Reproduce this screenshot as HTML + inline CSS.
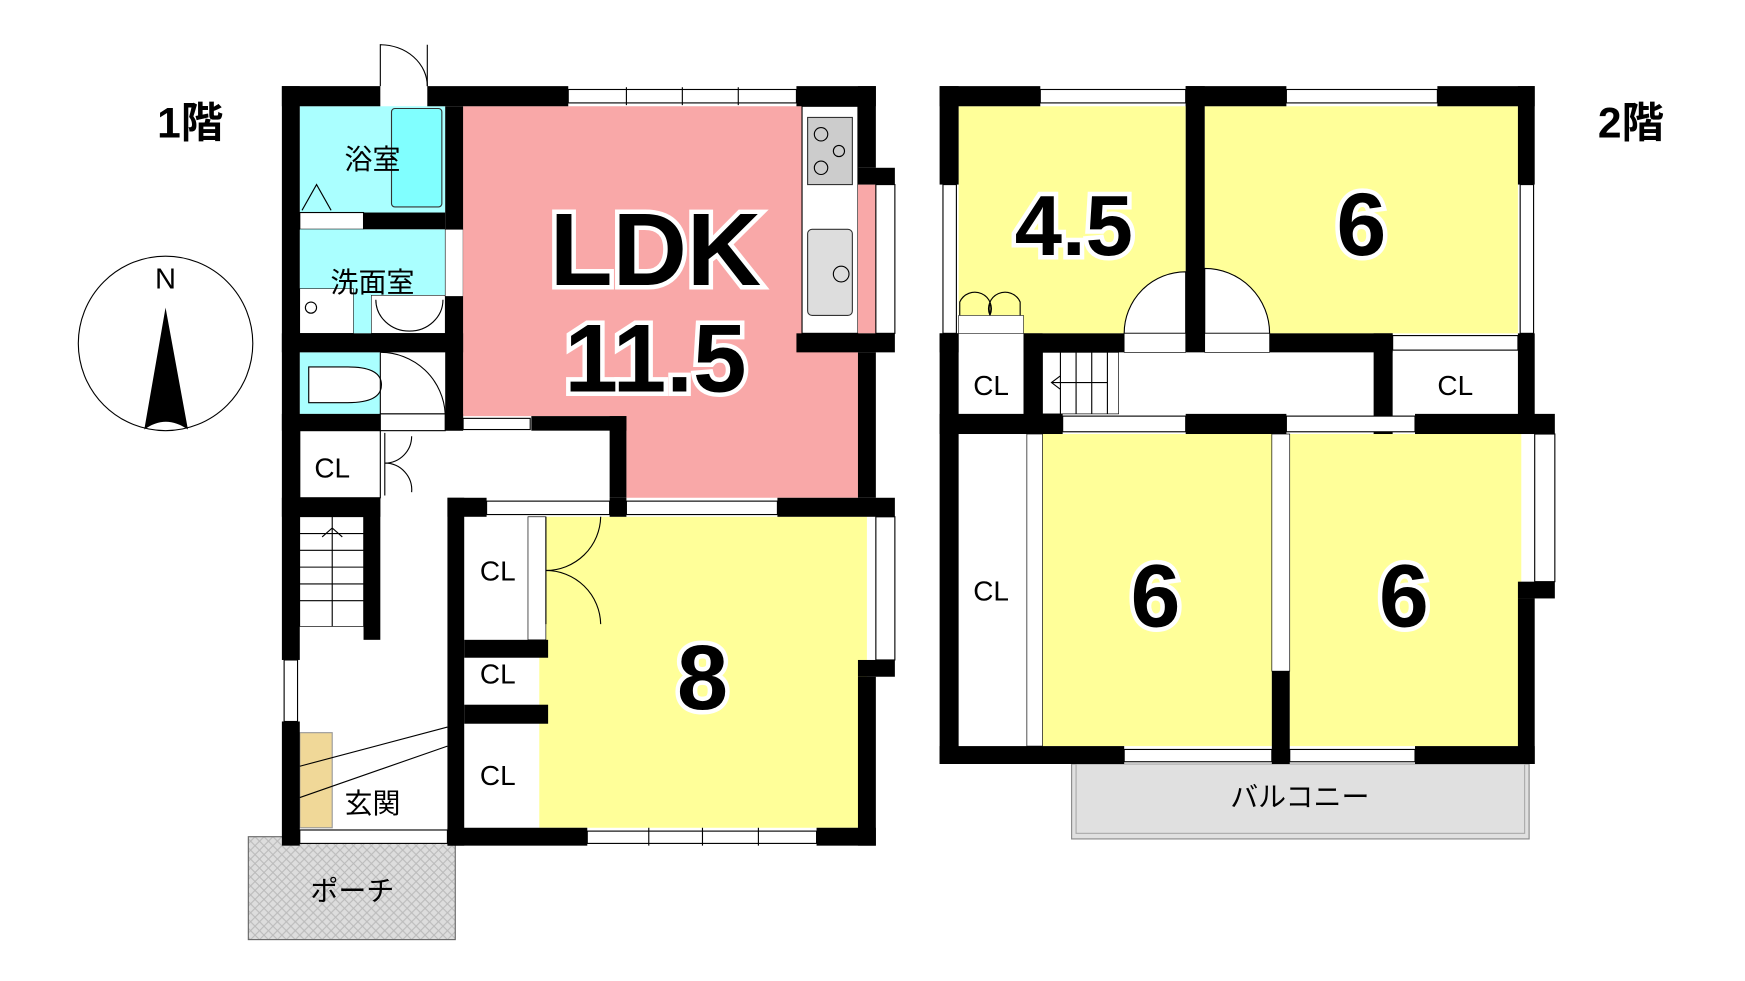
<!DOCTYPE html>
<html><head><meta charset="utf-8"><style>
html,body{margin:0;padding:0;background:#fff}
svg{display:block}
text{font-family:"Liberation Sans","Noto Sans CJK JP",sans-serif}
.big{font-weight:bold;stroke:#fff;stroke-width:8;paint-order:stroke;fill:#000;text-anchor:middle}
.lab{font-size:25px;text-anchor:middle;fill:#000}
.w{fill:#000}
.win{fill:#fff;stroke:#000;stroke-width:1}
.thin{fill:none;stroke:#000;stroke-width:1}
</style></head><body>
<svg width="1745" height="981" viewBox="0 0 1560 877" preserveAspectRatio="none" xmlns="http://www.w3.org/2000/svg">
<defs>
<pattern id="hatch" width="8" height="8" patternUnits="userSpaceOnUse">
<rect width="8" height="8" fill="#ddd"/><path d="M0 0L8 8M8 0L0 8" stroke="#bbb" stroke-width="1"/>
</pattern>
</defs>
<rect width="1560" height="877" fill="#fff"/>

<!-- ============ 1F ============ -->
<text x="170" y="123" font-size="38" font-weight="bold" text-anchor="middle">1階</text>
<circle cx="148" cy="307" r="78" fill="#fff" stroke="#000" stroke-width="1"/>
<text x="148" y="258" font-size="26" text-anchor="middle" font-family="Liberation Serif,serif">N</text>
<path d="M148 275 L129 384 Q148 370 168 384 Z" fill="#000"/>

<rect x="222" y="748" width="185" height="92" fill="url(#hatch)" stroke="#666" stroke-width="1"/>
<text x="315" y="805" class="lab">ポーチ</text>

<rect x="268" y="95" width="130" height="95" fill="#aaffff"/>
<rect x="350" y="97" width="45" height="88" fill="#80ffff" stroke="#333" stroke-width="1" rx="3"/>
<rect x="268" y="190" width="57" height="15" fill="#fff" stroke="#000" stroke-width="1"/>
<path d="M270 188 L283 165 L296 188" class="thin"/>
<rect x="268" y="205" width="130" height="93" fill="#aaffff"/>
<rect x="268" y="258" width="48" height="40" fill="#fff" stroke="#000" stroke-width=".5"/>
<circle cx="278" cy="275" r="5" class="thin"/>
<rect x="332" y="264" width="66" height="34" fill="#fff" stroke="#000" stroke-width=".5"/>
<path d="M336 268 A30 28 0 0 0 396 268" class="thin"/>
<rect x="268" y="315" width="72" height="55" fill="#aaffff"/>
<rect x="340" y="315" width="58" height="55" fill="#fff"/>
<path d="M276 328 h35 q30 0 30 16 q0 16 -30 16 h-35 z" fill="#fff" stroke="#000"/>
<path d="M340 315 A58 58 0 0 1 398 370 M340 315 V370 M340 370 H398" class="thin"/>
<rect x="398" y="205" width="16" height="60" fill="#fff" stroke="#000" stroke-width=".5"/>
<path d="M414 205 A58 58 0 0 1 472 262 H414" class="thin"/>

<path d="M414 95 H767 V445 H560 V372 H414 Z" fill="#f9a8a8"/>
<rect x="717" y="95" width="50" height="203" fill="#fff" stroke="#000" stroke-width="1"/>
<rect x="722" y="105" width="40" height="60" fill="#ccc" stroke="#333"/>
<circle cx="734" cy="120" r="6" class="thin"/><circle cx="734" cy="150" r="6" class="thin"/><circle cx="750" cy="135" r="5" class="thin"/>
<rect x="722" y="205" width="40" height="77" fill="#ddd" stroke="#333" rx="4"/>
<circle cx="752" cy="245" r="7" class="thin"/>
<rect x="767" y="165" width="16" height="133" fill="#f9a8a8"/>

<rect x="268" y="385" width="130" height="60" fill="#fff"/>
<rect x="268" y="385" width="72" height="60" fill="#fff" stroke="#000" stroke-width="1"/>
<path d="M344 387 V443 M344 414 A24 24 0 0 0 368 390 M344 414 A24 24 0 0 1 368 440" class="thin"/>
<rect x="268" y="462" width="57" height="98" fill="#fff" stroke="#000" stroke-width=".6"/>
<path d="M268 477 H325 M268 492 H325 M268 507 H325 M268 522 H325 M268 537 H325 M297 462 V560 M288 480 L297 472 L306 480" class="thin"/>
<rect x="268" y="655" width="29" height="85" fill="#f0d898" stroke="#999"/>
<path d="M268 685 L400 650 M268 713 L400 667" class="thin"/>
<text x="333" y="727" class="lab">玄関</text>

<path d="M482 462 H775 V740 H482 Z" fill="#ffff99"/>
<rect x="415" y="462" width="57" height="110" fill="#fff"/>
<rect x="472" y="462" width="16" height="110" fill="#fff" stroke="#000" stroke-width=".6"/>
<path d="M488 462 V558 M488 510 A49 49 0 0 0 537 462 M488 510 A49 49 0 0 1 537 558" class="thin"/>
<rect x="415" y="588" width="67" height="42" fill="#fff"/>
<rect x="415" y="647" width="67" height="93" fill="#fff"/>
<text x="445" y="519" class="lab">CL</text>
<text x="445" y="611" class="lab">CL</text>
<text x="445" y="702" class="lab">CL</text>
<text x="297" y="427" class="lab">CL</text>
<text x="333" y="151" class="lab">浴室</text>
<text x="333" y="261" class="lab">洗面室</text>

<rect class="w" x="252" y="77" width="88" height="18"/>
<rect class="w" x="382" y="77" width="126" height="18"/>
<rect class="w" x="712" y="77" width="71" height="18"/>
<rect class="win" x="508" y="80" width="204" height="12"/>
<path d="M560 78v16M610 78v16M660 78v16" stroke="#000"/>
<path d="M340 77 V40 A42 37 0 0 1 382 77" fill="none" stroke="#000"/>
<path d="M382 40 V77" stroke="#000"/>
<rect class="w" x="252" y="77" width="16" height="513"/>
<rect class="win" x="254" y="590" width="12" height="55"/>
<rect class="w" x="252" y="645" width="16" height="111"/>
<rect class="w" x="325" y="190" width="73" height="15"/>
<rect class="w" x="398" y="95" width="16" height="110"/>
<rect class="w" x="398" y="265" width="16" height="120"/>
<rect class="w" x="252" y="298" width="162" height="17"/>
<rect class="w" x="252" y="370" width="88" height="15"/>
<rect class="win" x="340" y="370" width="58" height="15"/>
<rect class="w" x="398" y="370" width="16" height="15"/>
<rect class="win" x="414" y="374" width="60" height="10"/>
<rect class="w" x="475" y="372" width="85" height="13"/>
<rect class="w" x="545" y="372" width="15" height="73"/>
<rect class="w" x="767" y="77" width="16" height="73"/>
<rect class="w" x="767" y="150" width="33" height="15"/>
<rect class="win" x="783" y="165" width="17" height="133"/>
<rect class="w" x="712" y="298" width="88" height="17"/>
<rect class="w" x="767" y="315" width="16" height="130"/>
<rect class="w" x="252" y="445" width="88" height="17"/>
<rect class="w" x="325" y="445" width="15" height="127"/>
<rect class="w" x="400" y="445" width="35" height="17"/>
<rect class="win" x="435" y="448" width="110" height="12"/>
<rect class="w" x="545" y="445" width="15" height="17"/>
<rect class="win" x="560" y="448" width="135" height="12"/>
<rect class="w" x="695" y="445" width="105" height="17"/>
<rect class="win" x="783" y="462" width="17" height="128"/>
<rect class="w" x="767" y="590" width="33" height="15"/>
<rect class="w" x="767" y="605" width="16" height="151"/>
<rect class="w" x="400" y="445" width="15" height="311"/>
<rect class="w" x="415" y="572" width="75" height="16"/>
<rect class="w" x="415" y="630" width="75" height="17"/>
<rect class="w" x="400" y="740" width="125" height="16"/>
<rect class="win" x="525" y="743" width="205" height="11"/>
<path d="M580 740v16M628 740v16M678 740v16" stroke="#000"/>
<rect class="w" x="730" y="740" width="53" height="16"/>
<rect class="win" x="268" y="742" width="132" height="12"/>

<text x="586" y="255" class="big" font-size="92">LDK</text>
<text x="586" y="350" class="big" font-size="86">11.5</text>
<text x="628" y="634" class="big" font-size="82">8</text>

<!-- ============ 2F ============ -->
<text x="1458" y="123" font-size="38" font-weight="bold" text-anchor="middle">2階</text>
<rect x="958" y="683" width="409" height="67" fill="#e0e0e0" stroke="#888" stroke-width="1"/>
<rect x="962" y="683" width="401" height="62" fill="none" stroke="#aaa" stroke-width="1"/>
<text x="1162" y="721" class="lab">バルコニー</text>

<rect x="857" y="95" width="203" height="203" fill="#ffff99"/>
<rect x="1077" y="95" width="280" height="203" fill="#ffff99"/>
<rect x="857" y="315" width="58" height="55" fill="#fff"/>
<rect x="932" y="315" width="296" height="55" fill="#fff"/>
<rect x="932" y="315" width="68" height="55" fill="#fff" stroke="#000" stroke-width=".6"/>
<path d="M948 315v55M962 315v55M976 315v55M990 315v55M940 342h50M948 336l-8 6l8 6" class="thin"/>
<rect x="1245" y="315" width="112" height="55" fill="#fff"/>
<rect x="857" y="388" width="61" height="279" fill="#fff"/>
<rect x="932" y="388" width="205" height="279" fill="#ffff99"/>
<rect x="1153" y="388" width="207" height="279" fill="#ffff99"/>
<rect x="918" y="388" width="14" height="279" fill="#fff" stroke="#000" stroke-width=".6"/>
<rect x="1137" y="388" width="16" height="212" fill="#fff" stroke="#000" stroke-width=".6"/>
<rect x="857" y="282" width="58" height="16" fill="#fff" stroke="#000" stroke-width=".5"/>
<path d="M858 282 V270 A14 14 0 0 1 885 282 M912 282 V270 A14 14 0 0 0 885 282 M885 272 V282" class="thin"/>
<path d="M1060 298 H1005 A55 55 0 0 1 1060 243 Z M1077 298 V240 A58 58 0 0 1 1135 298 Z" fill="#fff" stroke="#000" stroke-width="1"/>
<rect x="1005" y="298" width="55" height="17" fill="#fff" stroke="#000" stroke-width=".6"/>
<rect x="1077" y="298" width="58" height="17" fill="#fff" stroke="#000" stroke-width=".6"/>

<rect class="w" x="840" y="77" width="90" height="18"/>
<rect class="win" x="930" y="80" width="130" height="12"/>
<rect class="w" x="1060" y="77" width="90" height="18"/>
<rect class="win" x="1150" y="80" width="135" height="12"/>
<rect class="w" x="1285" y="77" width="87" height="18"/>
<rect class="w" x="840" y="77" width="17" height="88"/>
<rect class="win" x="843" y="165" width="12" height="133"/>
<rect class="w" x="840" y="298" width="17" height="385"/>
<rect class="w" x="1060" y="77" width="17" height="238"/>
<rect class="w" x="1357" y="77" width="15" height="88"/>
<rect class="win" x="1359" y="165" width="12" height="133"/>
<rect class="w" x="1357" y="298" width="15" height="90"/>
<rect class="w" x="840" y="298" width="17" height="17"/>
<rect class="w" x="915" y="298" width="90" height="17"/>
<rect class="w" x="1135" y="298" width="110" height="17"/>
<rect class="win" x="1245" y="300" width="112" height="13"/>
<rect class="w" x="915" y="298" width="17" height="90"/>
<rect class="w" x="1228" y="298" width="17" height="90"/>
<rect class="w" x="840" y="370" width="110" height="18"/>
<rect class="win" x="950" y="372" width="110" height="14"/>
<rect class="w" x="1060" y="370" width="90" height="18"/>
<rect class="win" x="1150" y="372" width="115" height="14"/>
<rect class="w" x="1265" y="370" width="125" height="18"/>
<rect class="win" x="1372" y="388" width="18" height="132"/>
<rect class="w" x="1357" y="520" width="33" height="15"/>
<rect class="w" x="1357" y="535" width="15" height="148"/>
<rect class="w" x="1137" y="600" width="16" height="83"/>
<rect class="w" x="840" y="667" width="165" height="16"/>
<rect class="win" x="1005" y="670" width="132" height="11"/>
<rect class="win" x="1153" y="670" width="112" height="11"/>
<rect class="w" x="1265" y="667" width="107" height="16"/>

<text x="886" y="353" class="lab">CL</text>
<text x="1301" y="353" class="lab">CL</text>
<text x="886" y="537" class="lab">CL</text>
<text x="960" y="228" class="big" font-size="76">4.5</text>
<text x="1217" y="228" class="big" font-size="80">6</text>
<text x="1033" y="560" class="big" font-size="80">6</text>
<text x="1255" y="560" class="big" font-size="80">6</text>
</svg>
</body></html>
